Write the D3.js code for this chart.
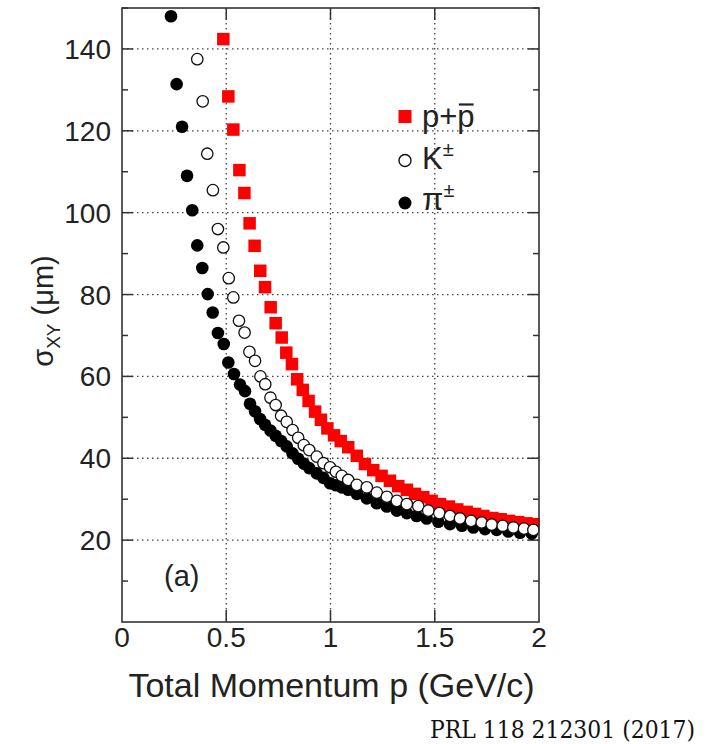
<!DOCTYPE html>
<html><head><meta charset="utf-8">
<script src="https://cdn.jsdelivr.net/npm/d3@7"></script>
<style>body{margin:0;background:#fff}svg{display:block}</style>
</head><body>
<svg id="c" width="715" height="744"></svg>
<script>
const protonX = [0.486,0.51,0.534,0.563,0.587,0.612,0.636,0.663,0.686,0.713,0.737,0.766,0.788,0.815,0.840,0.867,0.895,0.926,0.954,0.985,1.017,1.049,1.085,1.126,1.165,1.205,1.245,1.285,1.325,1.366,1.405,1.445,1.485,1.525,1.568,1.608,1.653,1.693,1.733,1.776,1.816,1.856,1.90,1.94,1.98];
const protonY = [142.4,128.4,120.3,110.4,104.8,97.4,91.9,85.8,81.8,76.9,73,69.5,65.8,63,59.3,56.7,54,51.4,49.4,47.3,45.6,44.2,42.7,40.6,38.6,37.1,35.7,34.5,33.2,32.3,31.3,30.5,29.6,28.8,28.2,27.5,26.9,26.4,25.9,25.4,25.1,24.7,24.4,24.1,23.9];
const kaonX = [0.361,0.387,0.409,0.436,0.46,0.486,0.512,0.534,0.561,0.588,0.611,0.638,0.664,0.687,0.712,0.737,0.763,0.79,0.818,0.845,0.872,0.898,0.934,0.966,0.998,1.026,1.054,1.085,1.126,1.174,1.222,1.27,1.318,1.366,1.421,1.469,1.522,1.573,1.621,1.674,1.725,1.773,1.826,1.877,1.928,1.973];
const kaonY = [137.5,127.2,114.4,105.5,96,91.5,84,79.3,73.6,70.7,66,63.8,60,58.1,54.8,53,50.4,48.9,46.9,45,43.2,42,40.4,38.8,37.8,36.7,35.7,34.7,33.5,32.9,31.6,30.6,29.6,28.8,28.3,27.2,26.6,25.9,25.3,24.7,24.3,23.8,23.5,23.1,22.8,22.5];
const pionX = [0.235,0.262,0.288,0.312,0.337,0.361,0.385,0.411,0.435,0.46,0.488,0.51,0.537,0.566,0.59,0.614,0.638,0.662,0.686,0.712,0.737,0.763,0.79,0.818,0.845,0.872,0.898,0.934,0.966,0.998,1.026,1.054,1.085,1.126,1.174,1.222,1.27,1.318,1.366,1.413,1.461,1.517,1.573,1.63,1.685,1.741,1.797,1.853,1.909,1.965];
const pionY = [148,131.4,121,109,100.6,92,86.5,80.1,75.6,70.6,67.9,63.4,60.6,58,56.4,53.3,51.5,49.6,48.2,46.8,45.5,44.2,42.9,41.2,39.9,38.7,37.6,36.3,35.2,33.9,33.4,32.9,32.3,31.3,30.2,29,28.2,27.2,26.6,25.9,25.3,24.5,23.9,23.5,23.1,22.7,22.5,22.1,21.8,21.6];
const xTicks = [0,0.5,1,1.5,2];
const xTickLabels = ["0","0.5","1","1.5","2"];
const yTicks = [20,40,60,80,100,120,140];
const yMinor = [10,30,50,70,90,110,130,150];

const svg = d3.select("#c");
const L=122,R=539,T=8,B=622;
const x = d3.scaleLinear().domain([0,2]).range([L,R]);
const y = d3.scaleLinear().domain([0,150]).range([B,T]);
const axisCol="#333";
const font="'Liberation Sans', Arial, sans-serif";

// grid
const g = svg.append("g");
g.selectAll(".gx").data(xTicks.slice(1,-1)).join("line")
  .attr("x1",d=>x(d)).attr("x2",d=>x(d)).attr("y1",T).attr("y2",B)
  .attr("stroke","#444").attr("stroke-width",1.3).attr("stroke-dasharray","1.5,3.5");
g.selectAll(".gy").data(yTicks).join("line")
  .attr("y1",d=>y(d)).attr("y2",d=>y(d)).attr("x1",L).attr("x2",R)
  .attr("stroke","#444").attr("stroke-width",1.3).attr("stroke-dasharray","1.5,3.5");

// ticks inside
const tk = svg.append("g").attr("stroke",axisCol).attr("stroke-width",1.5);
yTicks.forEach(v=>{
  tk.append("line").attr("x1",L).attr("x2",L+11).attr("y1",y(v)).attr("y2",y(v));
  tk.append("line").attr("x1",R).attr("x2",R-11).attr("y1",y(v)).attr("y2",y(v));
});
yMinor.forEach(v=>{
  tk.append("line").attr("x1",L).attr("x2",L+6).attr("y1",y(v)).attr("y2",y(v));
  tk.append("line").attr("x1",R).attr("x2",R-6).attr("y1",y(v)).attr("y2",y(v));
});
xTicks.slice(1,-1).forEach(v=>{
  tk.append("line").attr("x1",x(v)).attr("x2",x(v)).attr("y1",B).attr("y2",B-12);
  tk.append("line").attr("x1",x(v)).attr("x2",x(v)).attr("y1",T).attr("y2",T+12);
});

// data
const S=12.5;
svg.append("g").selectAll("rect").data(protonX.map((d,i)=>[d,protonY[i]])).join("rect")
  .attr("x",d=>x(d[0])-S/2).attr("y",d=>y(d[1])-S/2).attr("width",S).attr("height",S)
  .attr("fill","#f00");
svg.append("g").selectAll("circle").data(pionX.map((d,i)=>[d,pionY[i]])).join("circle")
  .attr("cx",d=>x(d[0])).attr("cy",d=>y(d[1])).attr("r",6.3).attr("fill","#000");
svg.append("g").selectAll("circle").data(kaonX.map((d,i)=>[d,kaonY[i]])).join("circle")
  .attr("cx",d=>x(d[0])).attr("cy",d=>y(d[1])).attr("r",5.7).attr("fill","#fff")
  .attr("stroke","#111").attr("stroke-width",1.3);

// frame
svg.append("rect").attr("x",R+0.75).attr("y",0).attr("width",715-R).attr("height",B).attr("fill","#fff");
svg.append("rect").attr("x",L).attr("y",T).attr("width",R-L).attr("height",B-T)
  .attr("fill","none").attr("stroke",axisCol).attr("stroke-width",1.6);

// tick labels
svg.append("g").selectAll("text").data(yTicks).join("text")
  .attr("x",L-11).attr("y",d=>y(d)).attr("dy","0.36em").attr("text-anchor","end")
  .attr("font-family",font).attr("font-size",28).attr("fill","#222").text(d=>d);
svg.append("g").selectAll("text").data(xTicks).join("text")
  .attr("x",d=>x(d)).attr("y",647).attr("text-anchor","middle")
  .attr("font-family",font).attr("font-size",28).attr("fill","#222").text((d,i)=>xTickLabels[i]);

// axis titles
svg.append("text").attr("x",(L+R)/2+1).attr("y",697).attr("text-anchor","middle")
  .attr("font-family",font).attr("font-size",34).attr("fill","#222").text("Total Momentum p (GeV/c)");
const yt = svg.append("text").attr("transform","translate(53,311) rotate(-90)").attr("text-anchor","middle")
  .attr("font-family",font).attr("font-size",29).attr("fill","#222");
yt.append("tspan").text("σ");
yt.append("tspan").attr("font-size",19).attr("dy",7).text("XY");
yt.append("tspan").attr("dy",-7).text(" (μm)");

// (a)
svg.append("text").attr("x",164).attr("y",586).attr("font-family",font).attr("font-size",29).attr("fill","#222").text("(a)");

// legend
const lg = svg.append("g").attr("font-family",font).attr("fill","#222");
lg.append("rect").attr("x",398.5).attr("y",110).attr("width",13).attr("height",13).attr("fill","#f00");
const t1 = lg.append("text").attr("x",422).attr("y",127).attr("font-size",31).text("p+p");
// overline over the antiproton "p"
const t1n = t1.node();
const ox0 = 422 + t1n.getSubStringLength(0,2);
const ow = t1n.getSubStringLength(2,1);
lg.append("line").attr("x1",ox0+1.5).attr("x2",ox0+ow-1).attr("y1",104.5).attr("y2",104.5)
  .attr("stroke","#222").attr("stroke-width",2.2);
lg.append("circle").attr("cx",405).attr("cy",160.5).attr("r",6).attr("fill","#fff").attr("stroke","#111").attr("stroke-width",1.4);
const t2 = lg.append("text").attr("x",422).attr("y",169).attr("font-size",31);
t2.append("tspan").text("K");
t2.append("tspan").attr("font-size",20).attr("dy",-13).text("±");
lg.append("circle").attr("cx",405).attr("cy",203).attr("r",6.5).attr("fill","#000");
const t3 = lg.append("text").attr("x",422).attr("y",210).attr("font-size",31);
t3.append("tspan").text("π");
t3.append("tspan").attr("font-size",20).attr("dy",-13).text("±");

// citation
svg.append("text").attr("x",430).attr("y",738)
  .attr("font-family","'DejaVu Serif Condensed', 'DejaVu Serif', serif").attr("font-size",24).attr("fill","#111")
  .attr("textLength",265).attr("lengthAdjust","spacingAndGlyphs")
  .text("PRL 118 212301 (2017)");
</script>
</body></html>
